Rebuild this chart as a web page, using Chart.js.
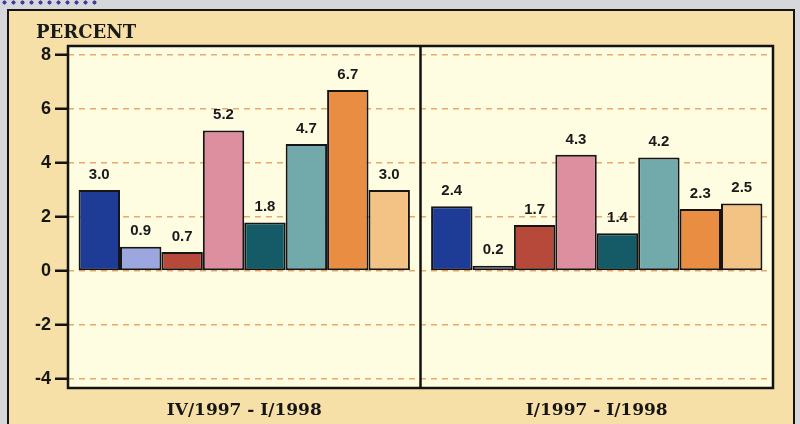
<!DOCTYPE html>
<html>
<head>
<meta charset="utf-8">
<script src="https://cdn.jsdelivr.net/npm/chart.js@4"></script>
<style>
	html, body { margin: 0; padding: 0; }
	body { width: 800px; height: 424px; background: #d6d7da; position: relative; overflow: hidden; }
	.dots {
		position: absolute; left: 0; top: 0; width: 100px; height: 5px;
		background-image: radial-gradient(circle, #3e3e9c 1.8px, transparent 2.3px);
		background-size: 9px 5px;
	}
	.panel {
		position: absolute; left: 7px; top: 9px; width: 784px; height: 430px;
		background: #f7e0a8; border: 2px solid #141414;
	}
	#chartBar { position: absolute; left: 0; top: 0; }
</style>
</head>
<body>
<div class="dots"></div>
<div class="panel"></div>
<canvas id="chartBar" width="800" height="424"></canvas>
<script>
// two periods, eight bars each
const categories = ['IV/1997 - I/1998', 'I/1997 - I/1998'];
const quarterValues = [3.0, 0.9, 0.7, 5.2, 1.8, 4.7, 6.7, 3.0];
const yearValues = [2.4, 0.2, 1.7, 4.3, 1.4, 4.2, 2.3, 2.5];
const barColors = ['#1e3b95', '#9ba7de', '#b7493b', '#de8f9f', '#145b67', '#72aaac', '#e98d42', '#f2c385'];
const yTicks = [-4, -2, 0, 2, 4, 6, 8];

const serif = '"DejaVu Serif", "Liberation Serif", serif';

const datasets = barColors.map((color, i) => ({
	label: 'Series ' + (i + 1),
	data: [quarterValues[i], yearValues[i]],
	backgroundColor: color,
	borderColor: '#151515',
	borderWidth: 2,
	borderSkipped: false,
	categoryPercentage: 0.94,
	barPercentage: 1.0,
}));

// pale plot background, frame, divider, title and value labels
const decorations = {
	id: 'decorations',
	beforeDraw(chart) {
		const { ctx, chartArea: a } = chart;
		ctx.save();
		ctx.fillStyle = '#fefde2';
		ctx.fillRect(a.left, a.top, a.right - a.left, a.bottom - a.top);
		ctx.restore();
	},
	afterDatasetsDraw(chart) {
		const { ctx, chartArea: a } = chart;
		const x = chart.scales.x;
		ctx.save();
		// value labels over each bar
		ctx.font = 'bold 15px "Liberation Sans", Arial, sans-serif';
		ctx.fillStyle = '#1a1a1a';
		ctx.textAlign = 'center';
		ctx.textBaseline = 'bottom';
		chart.data.datasets.forEach((ds, di) => {
			chart.getDatasetMeta(di).data.forEach((bar, j) => {
				ctx.fillText(ds.data[j].toFixed(1), bar.x, bar.y - 8);
			});
		});
		// frame and divider between the two periods
		ctx.strokeStyle = '#121212';
		ctx.lineWidth = 2.5;
		ctx.strokeRect(a.left, a.top, a.right - a.left, a.bottom - a.top);
		const mid = (x.getPixelForValue(0) + x.getPixelForValue(1)) / 2;
		ctx.beginPath();
		ctx.moveTo(mid, a.top);
		ctx.lineTo(mid, a.bottom);
		ctx.stroke();
		// unit title
		ctx.font = 'bold 18px ' + serif;
		ctx.textAlign = 'left';
		ctx.textBaseline = 'alphabetic';
		ctx.fillText('PERCENT', 36, 38);
		ctx.restore();
	},
};

new Chart(document.getElementById('chartBar'), {
	type: 'bar',
	data: { labels: categories, datasets: datasets },
	options: {
		responsive: false,
		animation: false,
		layout: { padding: { top: 46, right: 27, left: 0, bottom: 0 } },
		plugins: { legend: { display: false }, tooltip: { enabled: false } },
		scales: {
			x: {
				grid: { display: false, drawTicks: false },
				border: { display: false },
				ticks: {
					color: '#161616',
					padding: 12,
					font: { family: serif, weight: 'bold', size: 17 },
				},
				afterFit: (s) => { s.height = 36; },
			},
			y: {
				min: -4.33,
				max: 8.33,
				afterBuildTicks: (s) => { s.ticks = yTicks.map((v) => ({ value: v })); },
				grid: {
					color: '#eaa86c',
					lineWidth: 1.5,
					tickColor: '#121212',
					tickLength: 13,
					tickWidth: 2.5,
					tickBorderDash: [1, 0],
				},
				border: { display: false, dash: [6, 5] },
				ticks: {
					color: '#161616',
					padding: 4,
					font: { family: '"Liberation Sans", Arial, sans-serif', weight: 'bold', size: 18 },
				},
				afterFit: (s) => { s.width = 68; },
			},
		},
	},
	plugins: [decorations],
});
</script>
</body>
</html>
